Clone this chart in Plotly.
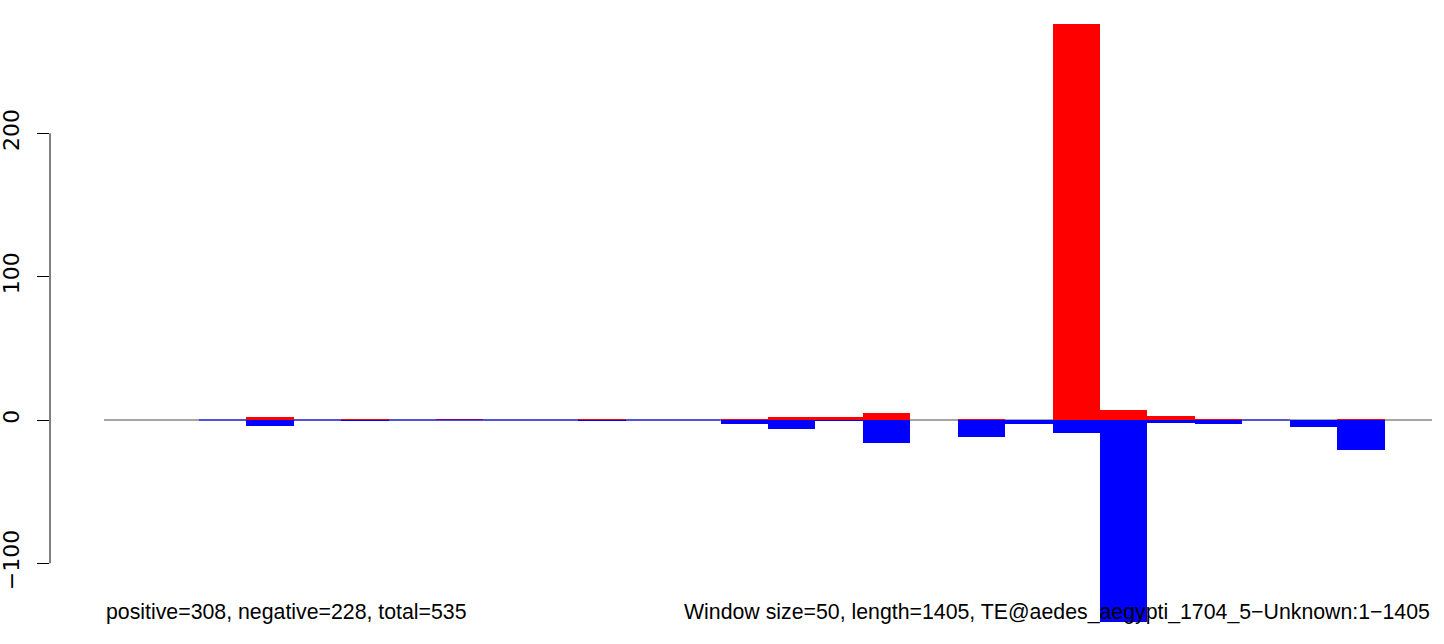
import plotly.graph_objects as go

# Window index (window size 50 over length 1405)
windows = list(range(28))
# Positive (red) and negative (blue) values per window; None = no bar drawn
pos_vals = [None, None, 0, 2, 0, 1, 0, 1, 0, 0, 1, 0, 0, 1, 2, 2, 5, None, 1, 0, 276, 7, 3, 1, 0, 0, 1, None]
neg_vals = [None, None, 0, -4, 0, -1, 0, 0, 0, 0, -1, 0, 0, -3, -6, -1, -16, None, -12, -3, -9, -141, -2, -3, 0, -5, -21, None]
y_ticks = [-100, 0, 100, 200]
left_note = "positive=308, negative=228, total=535"
right_note = "Window size=50, length=1405, TE@aedes_aegypti_1704_5\u2212Unknown:1\u22121405"

FONT = "Liberation Sans, Arial, sans-serif"
n = len(windows)
centers = [w + 0.5 for w in windows]

red_y = [v if (v is not None and v > 0) else None for v in pos_vals]
blue_y = [v if (v is not None and v < 0) else None for v in neg_vals]

# zero-valued windows show as a thin blue line
zx, zy = [], []
for w, v in zip(windows, neg_vals):
    if v == 0:
        zx += [w, w + 1, None]
        zy += [0, 0, None]

fig = go.Figure()
fig.add_trace(go.Bar(x=centers, y=red_y, width=1, marker=dict(color="#FF0000", line=dict(width=0)),
                     showlegend=False, hoverinfo="skip"))
fig.add_trace(go.Bar(x=centers, y=blue_y, width=1, marker=dict(color="#0000FF", line=dict(width=0)),
                     showlegend=False, hoverinfo="skip"))
fig.add_trace(go.Scatter(x=zx, y=zy, mode="lines", line=dict(color="#0000FF", width=1.2),
                         showlegend=False, hoverinfo="skip"))

px_per_bin = 47.43
y_px_per_unit = 1.4333
H = 644
zero_px = 420

fig.update_layout(
    width=1444, height=H, autosize=False,
    margin=dict(l=50, r=0, t=0, b=0, autoexpand=False),
    plot_bgcolor="white", paper_bgcolor="white",
    barmode="overlay", bargap=0,
    font=dict(family=FONT, color="black"),
    xaxis=dict(visible=False, range=[-54 / px_per_bin, n + 12 / px_per_bin], fixedrange=True,
               automargin=False),
    yaxis=dict(range=[-(H - zero_px) / y_px_per_unit, zero_px / y_px_per_unit],
               tickvals=y_ticks, ticks="outside", ticklen=12, tickwidth=1, tickcolor="black",
               showgrid=False, zeroline=False, showline=False, tickangle=-90, automargin=False,
               tickfont=dict(size=22, family="DejaVu Sans, sans-serif", color="black"),
               ticklabelstandoff=9),
    shapes=[
        dict(type="line", xref="x", yref="y", x0=0, x1=n, y0=0, y1=0,
             line=dict(color="#4d4d4d", width=1), layer="below"),
        dict(type="line", xref="paper", yref="y", x0=0, x1=0, y0=min(y_ticks), y1=max(y_ticks),
             line=dict(color="black", width=1)),
    ],
    annotations=[
        dict(text=left_note, xref="x", yref="paper", x=0, y=(H - 612) / H, xanchor="left", yanchor="middle",
             showarrow=False, font=dict(size=21.3, family=FONT, color="black")),
        dict(text=right_note, xref="x", yref="paper", x=n, y=(H - 612) / H, xanchor="right", yanchor="middle",
             showarrow=False, font=dict(size=21.3, family=FONT, color="black")),
    ],
)

fig.write_html("out.html", config={"displayModeBar": False, "staticPlot": True},
               post_script="document.body.style.margin='0';document.body.style.overflow='hidden';")
